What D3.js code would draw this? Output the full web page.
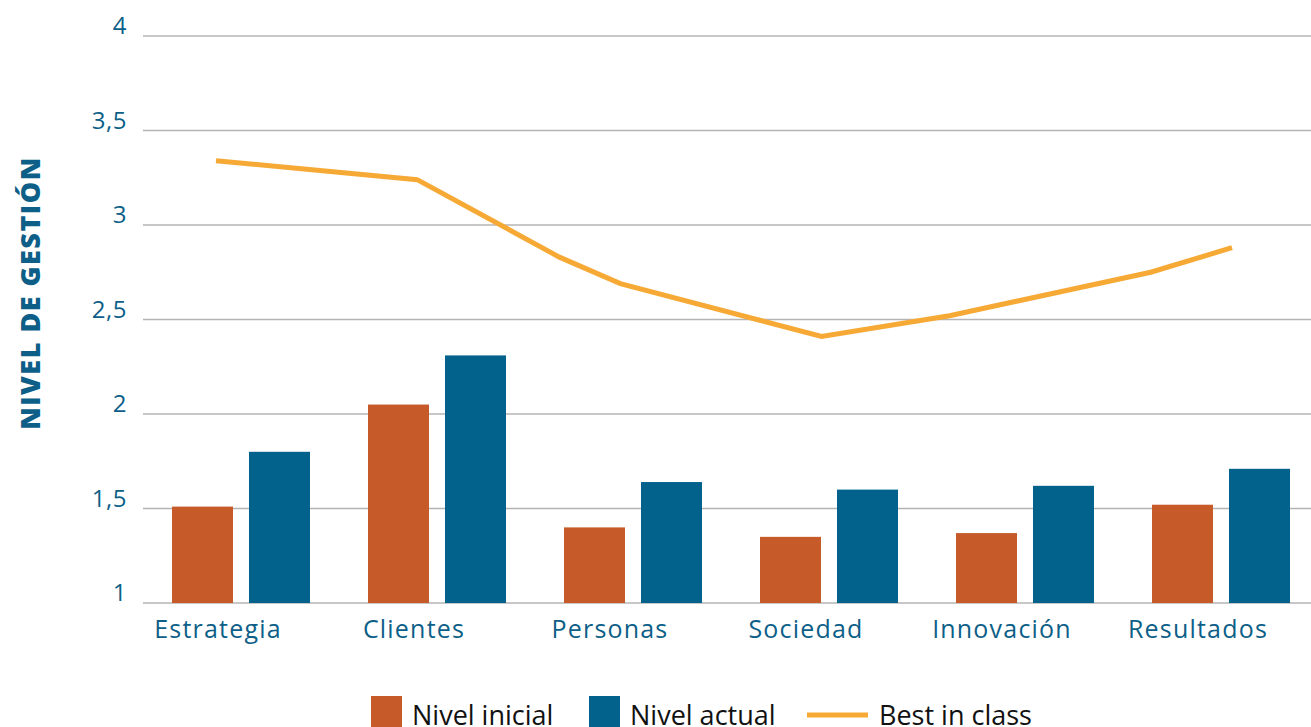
<!DOCTYPE html>
<html>
<head>
<meta charset="utf-8">
<script src="https://cdn.jsdelivr.net/npm/d3@7"></script>
<style>
  body { margin: 0; background: #fff; }
  svg { display: block; font-family: "Open Sans", sans-serif; }
</style>
</head>
<body>
<div id="chart"></div>
<script>
// data
var categories = ["Estrategia", "Clientes", "Personas", "Sociedad", "Innovación", "Resultados"];
var nivelInicial = [1.51, 2.05, 1.40, 1.35, 1.37, 1.52];
var nivelActual = [1.80, 2.31, 1.64, 1.60, 1.62, 1.71];
// best in class line: position in category units + value
var bestPos = [0, 0.99, 1.69, 1.99, 2.98, 3.61, 4.6, 5];
var bestVal = [3.34, 3.24, 2.83, 2.69, 2.41, 2.52, 2.75, 2.88];
var yTicks = [1, 1.5, 2, 2.5, 3, 3.5, 4];
var seriesNames = ["Nivel inicial", "Nivel actual", "Best in class"];

var width = 1311, height = 727;
var colors = { ini: "#c65a29", act: "#02628b", best: "#f6a935", text: "#0d5f88", grid: "#b4b4b4" };

var svg = d3.select("#chart").append("svg")
  .attr("width", width)
  .attr("height", height);

var y = d3.scaleLinear().domain([1, 4]).range([603, 36]);
var x = d3.scaleBand().domain(categories).range([143, 1319]);
var xSub = d3.scaleBand().domain([0, 1]).range([29, 167]).paddingInner(0.208);
var xLine = d3.scaleLinear().domain([0, categories.length - 1]).range([216, 1232]);

//gridlines
svg.append("g").selectAll("line")
  .data(yTicks)
  .enter()
  .append("line")
  .attr("x1", 143)
  .attr("x2", width)
  .attr("y1", function(d) { return y(d); })
  .attr("y2", function(d) { return y(d); })
  .attr("stroke", colors.grid)
  .attr("stroke-width", 1.3);

//y tick labels
svg.append("g").selectAll("text")
  .data(yTicks)
  .enter()
  .append("text")
  .text(function(d) { return String(d).replace(".", ","); })
  .attr("x", 127)
  .attr("y", function(d) { return y(d) - 2; })
  .attr("text-anchor", "end")
  .style("font-size", "24px")
  .style("font-weight", "500")
  .style("letter-spacing", "0.5px")
  .style("fill", colors.text);

//y title
svg.append("text")
  .text("NIVEL DE GESTIÓN")
  .attr("transform", "translate(40,293) rotate(-90)")
  .attr("text-anchor", "middle")
  .style("font-size", "27px")
  .style("font-weight", "800")
  .style("letter-spacing", "1.5px")
  .style("fill", colors.text);

//bars
var groups = svg.append("g").selectAll("g")
  .data(categories)
  .enter()
  .append("g")
  .attr("transform", function(d) { return "translate(" + x(d) + ",0)"; });

groups.append("rect")
  .attr("x", xSub(0))
  .attr("width", xSub.bandwidth())
  .attr("y", function(d, i) { return y(nivelInicial[i]); })
  .attr("height", function(d, i) { return y(1) - y(nivelInicial[i]); })
  .attr("fill", colors.ini);

groups.append("rect")
  .attr("x", xSub(1))
  .attr("width", xSub.bandwidth())
  .attr("y", function(d, i) { return y(nivelActual[i]); })
  .attr("height", function(d, i) { return y(1) - y(nivelActual[i]); })
  .attr("fill", colors.act);

//category labels
groups.append("text")
  .text(function(d) { return d; })
  .attr("x", x.bandwidth() / 2 - 23)
  .attr("y", 638)
  .attr("text-anchor", "middle")
  .style("font-size", "25px")
  .style("font-weight", "500")
  .style("letter-spacing", "1.2px")
  .style("fill", colors.text);

//best in class line
var line = d3.line()
  .x(function(d) { return xLine(d[0]); })
  .y(function(d) { return y(d[1]); });

svg.append("path")
  .datum(d3.zip(bestPos, bestVal))
  .attr("d", line)
  .attr("fill", "none")
  .attr("stroke", colors.best)
  .attr("stroke-width", 5);

//legend
var legend = svg.append("g");
legend.append("rect").attr("x", 371).attr("y", 696).attr("width", 31).attr("height", 31).attr("fill", colors.ini);
legend.append("rect").attr("x", 589).attr("y", 696).attr("width", 31).attr("height", 31).attr("fill", colors.act);
legend.append("line").attr("x1", 807).attr("x2", 868).attr("y1", 715).attr("y2", 715)
  .attr("stroke", colors.best).attr("stroke-width", 5);
legend.selectAll("text")
  .data(seriesNames)
  .enter()
  .append("text")
  .text(function(d) { return d; })
  .attr("x", function(d, i) { return [412, 630, 879][i]; })
  .attr("y", 725)
  .style("font-size", "27px")
  .style("fill", "#111");
</script>
</body>
</html>
